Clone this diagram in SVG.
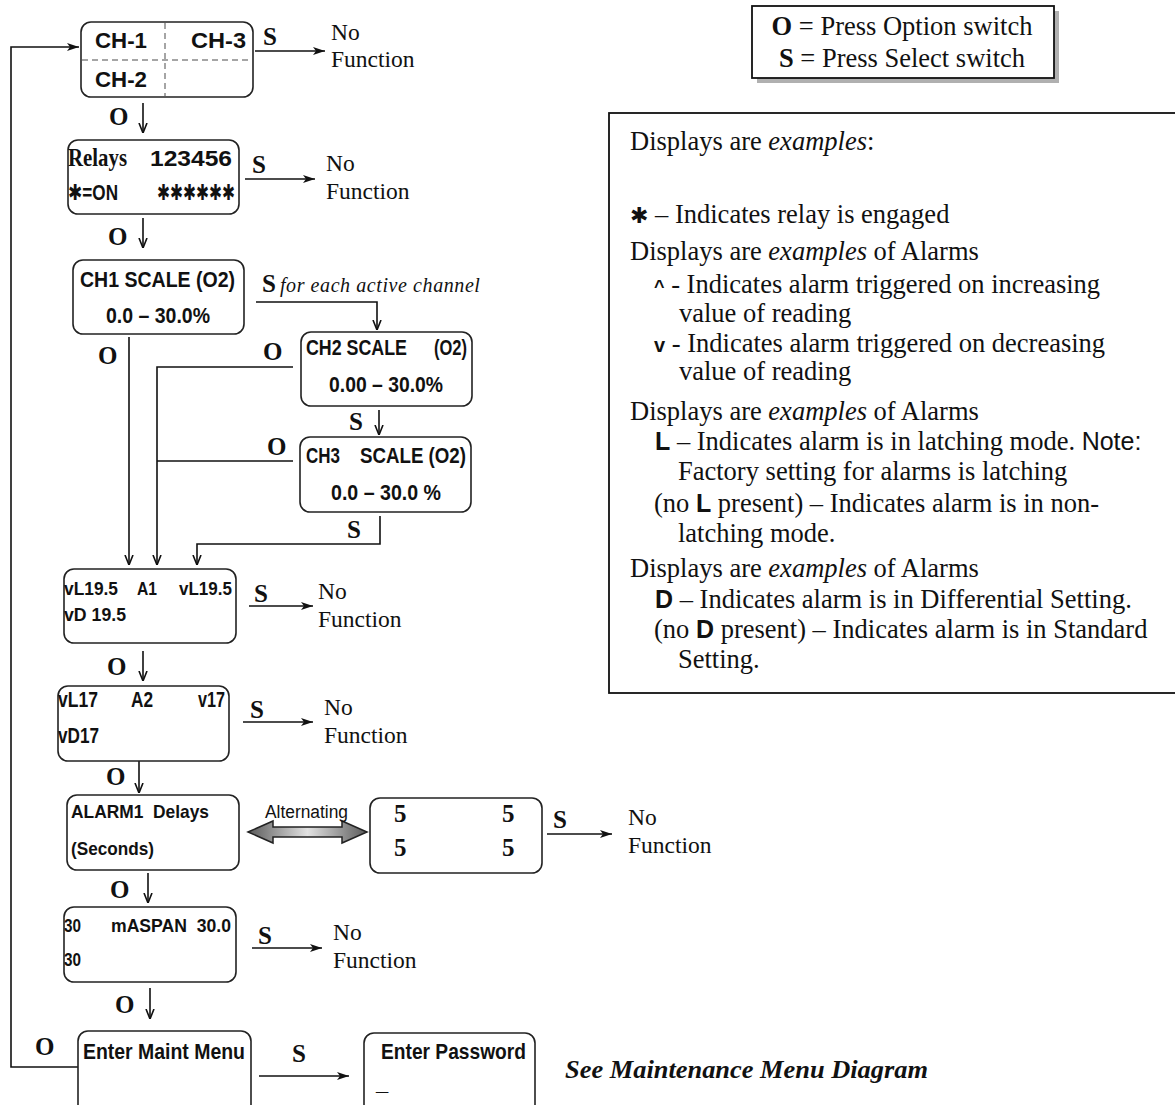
<svg xmlns="http://www.w3.org/2000/svg" width="1175" height="1105" viewBox="0 0 1175 1105">
<defs>
<style>
.box{fill:#fff;stroke:#222;stroke-width:1.6}
.dash{stroke:#888;stroke-width:1.5;stroke-dasharray:6 4}
.ln{fill:none;stroke:#111;stroke-width:1.6}
.d{font-family:"Liberation Sans",Arial,"DejaVu Sans",sans-serif;font-weight:bold;font-size:22px;fill:#111}
.s{font-size:19px}
.lb{font-family:"Liberation Serif","Times New Roman",serif;font-weight:bold;font-size:25px;fill:#111}
.nf{font-family:"Liberation Serif","Times New Roman",serif;font-size:23.5px;fill:#111}
.t{font-family:"Liberation Serif","Times New Roman",serif;font-size:26.5px;fill:#111}
.i{font-style:italic}
.a{font-family:"Liberation Sans",Arial,sans-serif;font-weight:bold}
.ar{font-family:"Liberation Sans",Arial,sans-serif}
</style>
<marker id="af" viewBox="0 0 12 8" refX="12" refY="4" markerWidth="12" markerHeight="8" markerUnits="userSpaceOnUse" orient="auto">
<path d="M0,0 L12,4 L0,8 L3,4 z" fill="#111"/>
</marker>
<marker id="ao" viewBox="0 0 10 10" refX="10" refY="5" markerWidth="10" markerHeight="10" markerUnits="userSpaceOnUse" orient="auto">
<path d="M0,1 L10,5 L0,9" fill="none" stroke="#111" stroke-width="1.6"/>
</marker>
<linearGradient id="g" x1="0" y1="0" x2="1" y2="0">
<stop offset="0" stop-color="#5a5a5a"/>
<stop offset="0.5" stop-color="#e2e2e2"/>
<stop offset="1" stop-color="#5a5a5a"/>
</linearGradient>
</defs>
<rect x="0" y="0" width="1175" height="1105" fill="#fff"/>

<g id="connectors">
<path class="ln" d="M78,1067 H11 V47 H79" marker-end="url(#af)"/>
<path class="ln" d="M255,51 H325" marker-end="url(#af)"/>
<path class="ln" d="M143,103 V133" marker-end="url(#ao)"/>
<path class="ln" d="M245,179 H315" marker-end="url(#af)"/>
<path class="ln" d="M143,218 V248" marker-end="url(#ao)"/>
<path class="ln" d="M256,302 H377 V330" marker-end="url(#ao)"/>
<path class="ln" d="M129,337 V565" marker-end="url(#ao)"/>
<path class="ln" d="M293,367 H157 V565" marker-end="url(#ao)"/>
<path class="ln" d="M293,461 H157"/>
<path class="ln" d="M379,410 V435" marker-end="url(#ao)"/>
<path class="ln" d="M380,516 V544 H197 V565" marker-end="url(#ao)"/>
<path class="ln" d="M249,606 H313" marker-end="url(#af)"/>
<path class="ln" d="M143,651 V681" marker-end="url(#ao)"/>
<path class="ln" d="M243,722 H313" marker-end="url(#af)"/>
<path class="ln" d="M139,761 V793" marker-end="url(#ao)"/>
<polygon points="248,832 273,821 273,827 342,827 342,821 367,832 342,843 342,837 273,837 273,843" fill="url(#g)" stroke="#222" stroke-width="1.5"/>
<path class="ln" d="M547,834 H612" marker-end="url(#af)"/>
<path class="ln" d="M148,873 V903" marker-end="url(#ao)"/>
<path class="ln" d="M252,948 H322" marker-end="url(#af)"/>
<path class="ln" d="M150,988 V1019" marker-end="url(#ao)"/>
<path class="ln" d="M259,1076 H349" marker-end="url(#af)"/>
</g>

<g id="labels">
<text class="lb" x="263" y="45">S</text>
<text class="nf" x="331" y="40">No</text>
<text class="nf" x="331" y="67">Function</text>
<text class="lb" x="109" y="125">O</text>
<text class="lb" x="252" y="173">S</text>
<text class="nf" x="326" y="171">No</text>
<text class="nf" x="326" y="199">Function</text>
<text class="lb" x="108" y="245">O</text>
<text class="lb" x="262" y="292">S<tspan class="i" font-weight="normal" font-size="20" dx="4" textLength="200">for each active channel</tspan></text>
<text class="lb" x="98" y="364">O</text>
<text class="lb" x="263" y="360">O</text>
<text class="lb" x="349" y="430">S</text>
<text class="lb" x="267" y="455">O</text>
<text class="lb" x="347" y="538">S</text>
<text class="lb" x="254" y="602">S</text>
<text class="nf" x="318" y="599">No</text>
<text class="nf" x="318" y="627">Function</text>
<text class="lb" x="107" y="675">O</text>
<text class="lb" x="250" y="718">S</text>
<text class="nf" x="324" y="715">No</text>
<text class="nf" x="324" y="743">Function</text>
<text class="lb" x="106" y="785">O</text>
<text class="ar" x="265" y="818" font-size="18" textLength="83" lengthAdjust="spacingAndGlyphs" fill="#111">Alternating</text>
<text class="lb" x="553" y="828">S</text>
<text class="nf" x="628" y="825">No</text>
<text class="nf" x="628" y="853">Function</text>
<text class="lb" x="110" y="898">O</text>
<text class="lb" x="258" y="944">S</text>
<text class="nf" x="333" y="940">No</text>
<text class="nf" x="333" y="968">Function</text>
<text class="lb" x="115" y="1013">O</text>
<text class="lb" x="35" y="1055">O</text>
<text class="lb" x="292" y="1062">S</text>
<text class="lb i" x="565" y="1078" textLength="363" lengthAdjust="spacingAndGlyphs">See Maintenance Menu Diagram</text>
</g>

<g id="n-channels">
<rect class="box" x="81" y="22" width="172" height="75" rx="10"/>
<line class="dash" x1="165" y1="23" x2="165" y2="96"/>
<line class="dash" x1="82" y1="60" x2="252" y2="60"/>
<text class="d" x="95" y="48" textLength="52" lengthAdjust="spacingAndGlyphs">CH-1</text>
<text class="d" x="191" y="48" textLength="55" lengthAdjust="spacingAndGlyphs">CH-3</text>
<text class="d" x="95" y="87" textLength="52" lengthAdjust="spacingAndGlyphs">CH-2</text>
</g>

<g id="n-relays">
<rect class="box" x="68" y="140" width="171" height="74" rx="10"/>
<text class="lb" x="68" y="166" font-size="20" textLength="59" lengthAdjust="spacingAndGlyphs">Relays</text>
<text class="d" x="150" y="166" font-size="20" textLength="82" lengthAdjust="spacingAndGlyphs">123456</text>
<text class="d" x="68" y="200" font-size="20" textLength="50" lengthAdjust="spacingAndGlyphs">✱=ON</text>
<text class="d" x="157" y="200" font-size="18" textLength="78" lengthAdjust="spacingAndGlyphs">✱✱✱✱✱✱</text>
</g>

<g id="n-ch1-scale">
<rect class="box" x="73" y="260" width="171" height="74" rx="10"/>
<text class="d" x="80" y="287" textLength="155" lengthAdjust="spacingAndGlyphs">CH1 SCALE (O2)</text>
<text class="d" x="106" y="323" textLength="104" lengthAdjust="spacingAndGlyphs">0.0 – 30.0%</text>
</g>

<g id="n-ch2-scale">
<rect class="box" x="301" y="332" width="171" height="74" rx="10"/>
<text class="d" x="306" y="355" textLength="101" lengthAdjust="spacingAndGlyphs">CH2 SCALE</text>
<text class="d" x="434" y="355" textLength="33" lengthAdjust="spacingAndGlyphs">(O2)</text>
<text class="d" x="329" y="392" textLength="114" lengthAdjust="spacingAndGlyphs">0.00 – 30.0%</text>
</g>

<g id="n-ch3-scale">
<rect class="box" x="300" y="437" width="171" height="75" rx="10"/>
<text class="d" x="306" y="463" textLength="34" lengthAdjust="spacingAndGlyphs">CH3</text>
<text class="d" x="360" y="463" textLength="106" lengthAdjust="spacingAndGlyphs">SCALE (O2)</text>
<text class="d" x="331" y="500" textLength="110" lengthAdjust="spacingAndGlyphs">0.0 – 30.0 %</text>
</g>

<g id="n-alarm1">
<rect class="box" x="64" y="569" width="172" height="74" rx="10"/>
<text class="d s" x="64" y="595" textLength="54" lengthAdjust="spacingAndGlyphs">vL19.5</text>
<text class="d s" x="137" y="595" textLength="20" lengthAdjust="spacingAndGlyphs">A1</text>
<text class="d s" x="179" y="595" textLength="53" lengthAdjust="spacingAndGlyphs">vL19.5</text>
<text class="d s" x="64" y="621" textLength="62" lengthAdjust="spacingAndGlyphs">vD 19.5</text>
</g>

<g id="n-alarm2">
<rect class="box" x="58" y="686" width="171" height="75" rx="10"/>
<text class="d" x="58" y="707" font-size="20" textLength="40" lengthAdjust="spacingAndGlyphs">vL17</text>
<text class="d" x="131" y="707" font-size="20" textLength="22" lengthAdjust="spacingAndGlyphs">A2</text>
<text class="d" x="198" y="707" font-size="20" textLength="27" lengthAdjust="spacingAndGlyphs">v17</text>
<text class="d" x="58" y="743" font-size="20" textLength="41" lengthAdjust="spacingAndGlyphs">vD17</text>
</g>

<g id="n-delays">
<rect class="box" x="67" y="795" width="172" height="75" rx="10"/>
<text class="d s" x="71" y="818" textLength="138" lengthAdjust="spacingAndGlyphs">ALARM1&#160; Delays</text>
<text class="d s" x="71" y="855" textLength="83" lengthAdjust="spacingAndGlyphs">(Seconds)</text>
</g>

<g id="n-delay-values">
<rect class="box" x="370" y="798" width="172" height="75" rx="10"/>
<text class="lb" x="394" y="822" font-size="18">5</text>
<text class="lb" x="502" y="822" font-size="18">5</text>
<text class="lb" x="394" y="856" font-size="18">5</text>
<text class="lb" x="502" y="856" font-size="18">5</text>
</g>

<g id="n-maspan">
<rect class="box" x="64" y="907" width="172" height="75" rx="10"/>
<text class="d s" x="64" y="932" textLength="17" lengthAdjust="spacingAndGlyphs">30</text>
<text class="d s" x="111" y="932" textLength="120" lengthAdjust="spacingAndGlyphs">mASPAN&#160; 30.0</text>
<text class="d s" x="64" y="966" textLength="17" lengthAdjust="spacingAndGlyphs">30</text>
</g>

<g id="n-maint">
<rect class="box" x="78" y="1031" width="173" height="90" rx="10"/>
<text class="d" x="83" y="1059" textLength="162" lengthAdjust="spacingAndGlyphs">Enter Maint Menu</text>
</g>

<g id="n-password">
<rect class="box" x="364" y="1033" width="171" height="90" rx="10"/>
<text class="d" x="381" y="1059" textLength="145" lengthAdjust="spacingAndGlyphs">Enter Password</text>
<text class="d" x="376" y="1090">_</text>
</g>

<g id="legend-keys">
<rect x="757" y="11" width="302" height="72" fill="#b0b0b0"/>
<rect x="752" y="6" width="302" height="72" fill="#fff" stroke="#111" stroke-width="1.8"/>
<text class="t" x="902" y="35" text-anchor="middle" font-size="26"><tspan font-weight="bold">O</tspan> = Press Option switch</text>
<text class="t" x="902" y="67" text-anchor="middle" font-size="26"><tspan font-weight="bold">S</tspan> = Press Select switch</text>
</g>

<g id="legend-notes">
<rect x="609" y="113" width="580" height="580" fill="#fff" stroke="#111" stroke-width="1.8"/>
<text class="t" x="630" y="150">Displays are <tspan class="i">examples</tspan>:</text>
<text class="t" x="630" y="223"><tspan font-family="DejaVu Sans" font-weight="bold" font-size="22">✱</tspan> – Indicates relay is engaged</text>
<text class="t" x="630" y="260">Displays are <tspan class="i">examples</tspan> of Alarms</text>
<text class="t" x="654" y="293"><tspan class="a" font-size="18">^</tspan> - Indicates alarm triggered on increasing</text>
<text class="t" x="679" y="322">value of reading</text>
<text class="t" x="654" y="352"><tspan class="a" font-size="20">v</tspan> - Indicates alarm triggered on decreasing</text>
<text class="t" x="679" y="380">value of reading</text>
<text class="t" x="630" y="420">Displays are <tspan class="i">examples</tspan> of Alarms</text>
<text class="t" x="655" y="450"><tspan class="a" font-size="25">L</tspan> – Indicates alarm is in latching mode. <tspan class="ar" font-size="25">Note:</tspan></text>
<text class="t" x="678" y="480">Factory setting for alarms is latching</text>
<text class="t" x="654" y="512">(no <tspan class="a" font-size="25">L</tspan> present) – Indicates alarm is in non-</text>
<text class="t" x="678" y="542">latching mode.</text>
<text class="t" x="630" y="577">Displays are <tspan class="i">examples</tspan> of Alarms</text>
<text class="t" x="655" y="608"><tspan class="a" font-size="25">D</tspan> – Indicates alarm is in Differential Setting.</text>
<text class="t" x="654" y="638">(no <tspan class="a" font-size="25">D</tspan> present) – Indicates alarm is in Standard</text>
<text class="t" x="678" y="668">Setting.</text>
</g>
</svg>
